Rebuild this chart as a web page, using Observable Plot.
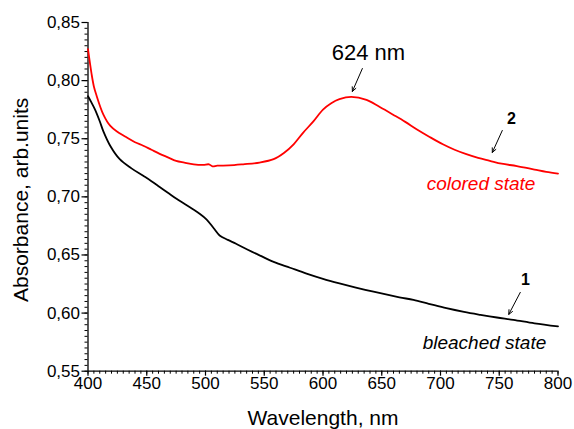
<!DOCTYPE html>
<html>
<head>
<meta charset="utf-8">
<script src="https://cdn.jsdelivr.net/npm/d3@7"></script>
<script src="https://cdn.jsdelivr.net/npm/@observablehq/plot@0.6"></script>
<style>
  html, body { margin: 0; padding: 0; background: #fff; }
  svg { display: block; }
</style>
</head>
<body>
<div id="chart"></div>
<script>
// Curve 2: colored state (red)
const coloredWl = [400, 403, 405, 407, 413, 419, 425, 433, 440, 447, 454, 461, 468, 475, 482, 490, 498, 503, 506, 510, 520, 532, 546, 558, 567, 575, 583, 592, 600, 607, 614, 624, 637, 648, 660, 670, 680, 690, 702, 712, 722, 732, 742, 752, 765, 780, 790, 800];
const coloredAbs = [0.8270, 0.806, 0.795, 0.788, 0.771, 0.761, 0.756, 0.751, 0.747, 0.744, 0.7405, 0.737, 0.734, 0.731, 0.7295, 0.728, 0.7275, 0.728, 0.7262, 0.7268, 0.727, 0.728, 0.7295, 0.7324, 0.738, 0.7452, 0.7551, 0.7651, 0.775, 0.7805, 0.7840, 0.786, 0.7835, 0.7775, 0.7705, 0.7645, 0.758, 0.752, 0.7452, 0.7405, 0.7367, 0.7335, 0.731, 0.7285, 0.7265, 0.7235, 0.7215, 0.720];

// Curve 1: bleached state (black)
const bleachedWl = [400, 403, 406, 410, 413, 419, 427, 437, 447, 454, 461, 468, 475, 482, 489, 495, 501, 507, 512, 519, 526, 536, 546, 558, 572, 586, 600, 614, 628, 643, 665, 677, 690, 705, 720, 734, 748, 762, 780, 800];
const bleachedAbs = [0.7865, 0.781, 0.775, 0.765, 0.7566, 0.7438, 0.7324, 0.7245, 0.7181, 0.7135, 0.7085, 0.7035, 0.6985, 0.694, 0.6895, 0.6855, 0.6805, 0.673, 0.6668, 0.663, 0.6597, 0.6545, 0.6497, 0.644, 0.639, 0.634, 0.6295, 0.6256, 0.622, 0.6184, 0.6136, 0.6113, 0.608, 0.6042, 0.601, 0.5985, 0.5962, 0.5942, 0.5912, 0.5885];

// Axis ticks
const xTicks = [400, 450, 500, 550, 600, 650, 700, 750, 800];
const yTicks = [0.55, 0.60, 0.65, 0.70, 0.75, 0.80, 0.85];

// Annotation texts and anchor positions (data units)
const labelTexts = ["624 nm", "2", "colored state", "1", "bleached state"];
const labelWl = [638.6, 760.3, 734.5, 772.2, 737.4];
const labelAbs = [0.8242, 0.7675, 0.7108, 0.629, 0.5745];
const arrowFromWl = [633.5, 752.6, 767.9];
const arrowFromAbs = [0.8104, 0.7571, 0.6178];
const arrowToWl = [625.0, 744.1, 758.1];
const arrowToAbs = [0.7907, 0.7382, 0.5989];

const colored = coloredWl.map((w, i) => ({w, a: coloredAbs[i]}));
const bleached = bleachedWl.map((w, i) => ({w, a: bleachedAbs[i]}));
const arrows = arrowFromWl.map((w, i) => ({x1: w, y1: arrowFromAbs[i], x2: arrowToWl[i], y2: arrowToAbs[i]}));
const labels = labelTexts.map((t, i) => ({t, w: labelWl[i], a: labelAbs[i]}));

const minorX = d3.range(400, 800.001, 5);
const minorY = d3.range(0, 61).map(i => +(0.55 + i * 0.005).toFixed(3));
const fmt = d => d.toFixed(2).replace(".", ",");

const chart = Plot.plot({
  width: 574,
  height: 429,
  marginLeft: 87.5,
  marginRight: 16.5,
  marginTop: 22,
  marginBottom: 58.3,
  style: {fontFamily: "'Liberation Sans', Arial, sans-serif", background: "#fff", color: "#000"},
  x: {domain: [400, 800]},
  y: {domain: [0.55, 0.85]},
  marks: [
    // minor ticks
    Plot.axisX(minorX, {tickSize: 3, text: null, label: null, strokeWidth: 1}),
    Plot.axisY(minorY, {tickSize: 3, text: null, label: null, strokeWidth: 1}),
    // major ticks + labels
    Plot.axisX(xTicks, {tickSize: 5, tickPadding: 1, tickFormat: d => String(d), fontSize: 17, label: null, strokeWidth: 1.2, style: "letter-spacing:0.6px"}),
    Plot.axisY(yTicks, {tickSize: 6, tickPadding: 2, tickFormat: fmt, fontSize: 17, label: null, strokeWidth: 1.2, style: "letter-spacing:0.6px"}),
    // axis lines
    Plot.ruleX([400], {strokeWidth: 1.3}),
    Plot.ruleY([0.55], {strokeWidth: 1.3}),
    // axis titles
    Plot.text(["Wavelength, nm"], {frameAnchor: "bottom", dy: 54, fontSize: 21}),
    Plot.text(["Absorbance, arb.units"], {frameAnchor: "left", dx: -67, dy: 3, rotate: -90, textAnchor: "middle", fontSize: 21}),
    // curves
    Plot.line(colored, {x: "w", y: "a", stroke: "#ff0000", strokeWidth: 1.8, curve: "catmull-rom"}),
    Plot.line(bleached, {x: "w", y: "a", stroke: "#000", strokeWidth: 1.8, curve: "catmull-rom"}),
    // arrows
    Plot.arrow(arrows, {x1: "x1", y1: "y1", x2: "x2", y2: "y2", stroke: "#000", strokeWidth: 1, headLength: 7, headAngle: 50}),
    // annotation labels
    Plot.text(labels.slice(0, 1), {x: "w", y: "a", text: "t", fontSize: 22, style: "letter-spacing:1.5px"}),
    Plot.text(labels.filter(d => d.t === "2" || d.t === "1"), {x: "w", y: "a", text: "t", fontSize: 16, fontWeight: "bold"}),
    Plot.text(labels.filter(d => d.t === "colored state"), {x: "w", y: "a", text: "t", fontSize: 19, fontStyle: "italic", fill: "#ff0000", style: "letter-spacing:0.5px"}),
    Plot.text(labels.filter(d => d.t === "bleached state"), {x: "w", y: "a", text: "t", fontSize: 19, fontStyle: "italic", fill: "#000", style: "letter-spacing:0.5px"})
  ]
});
document.getElementById("chart").appendChild(chart);
</script>
</body>
</html>
